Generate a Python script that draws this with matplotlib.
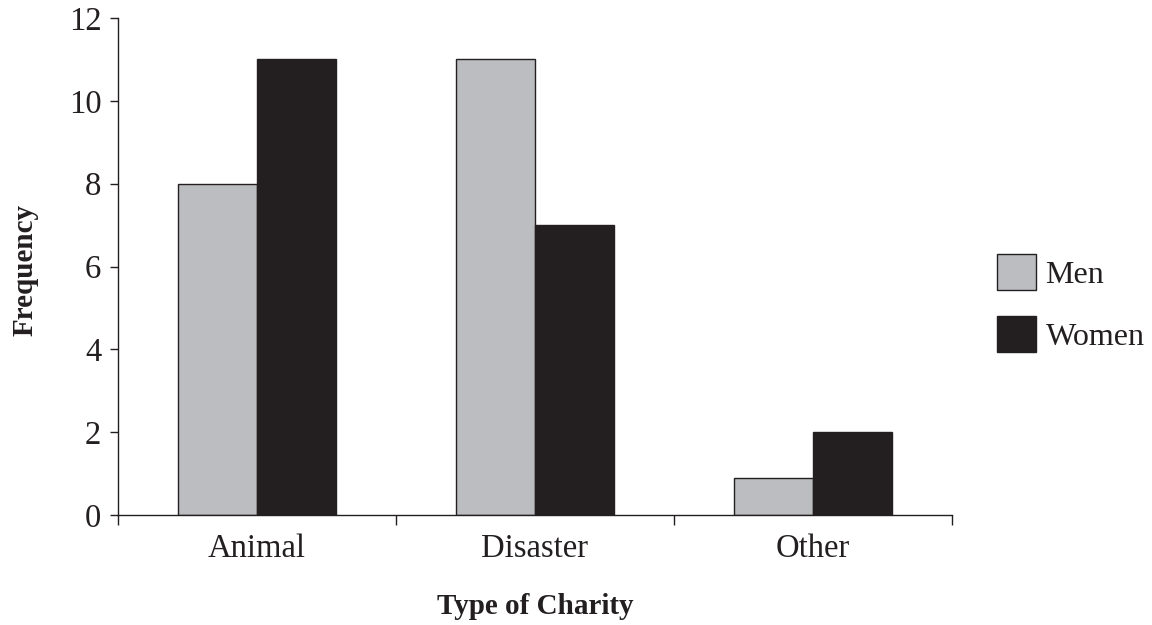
import numpy as np
import matplotlib.pyplot as plt
from matplotlib.ticker import FixedLocator

#Chart data
categories = ['Animal', 'Disaster', 'Other']
men = [8, 11, 0.9]
women = [11, 7, 2]
series_names = ['Men', 'Women']
y_ticks = [0, 2, 4, 6, 8, 10, 12]

ink = '#231f20'
grey = '#bcbdc0'

plt.rcParams['font.family'] = ['Liberation Serif', 'DejaVu Serif']
plt.rcParams['text.color'] = ink

fig = plt.figure(figsize=(11.52, 6.25), dpi=100)
ax = fig.add_axes([118/1152, 1 - 515/625, (952 - 118)/1152, (515 - 18)/625])

x = np.arange(len(categories))
w = 0.285
ax.bar(x - w/2, men, w, color=grey, edgecolor=ink, linewidth=1.0, label=series_names[0])
ax.bar(x + w/2, women, w, color=ink, edgecolor=ink, linewidth=1.0, label=series_names[1])

ax.set_xlim(-0.5, len(categories) - 0.5)
ax.set_ylim(0, 12)
ax.set_yticks(y_ticks)
ax.set_xticks(x)
ax.set_xticklabels(categories)
ax.xaxis.set_minor_locator(FixedLocator(np.arange(-0.5, len(categories), 1.0)))

ax.tick_params(axis='x', which='major', length=0, pad=13, labelsize=23.5, labelcolor=ink)
ax.tick_params(axis='x', which='minor', length=7, width=1.0, color=ink, direction='out')
ax.tick_params(axis='y', length=6, width=1.0, color=ink, pad=6, labelsize=23.5, labelcolor=ink)

for s in ['top', 'right']:
    ax.spines[s].set_visible(False)
for s in ['left', 'bottom']:
    ax.spines[s].set_color(ink)
    ax.spines[s].set_linewidth(1.0)

fig.text(535/1152, 1 - 607/625, 'Type of Charity', ha='center', va='center',
         fontsize=21, fontweight='bold')
fig.text(25/1152, 1 - 270/625, 'Frequency', ha='center', va='center',
         rotation=90, fontsize=21, fontweight='bold')

fig.legend(loc='center left', bbox_to_anchor=(997/1152, 1 - 303/625), frameon=False,
           fontsize=23, handlelength=1.22, handleheight=1.38, handletextpad=0.3,
           labelspacing=0.8, borderpad=0, borderaxespad=0)

fig.savefig('out.png', dpi=100)
